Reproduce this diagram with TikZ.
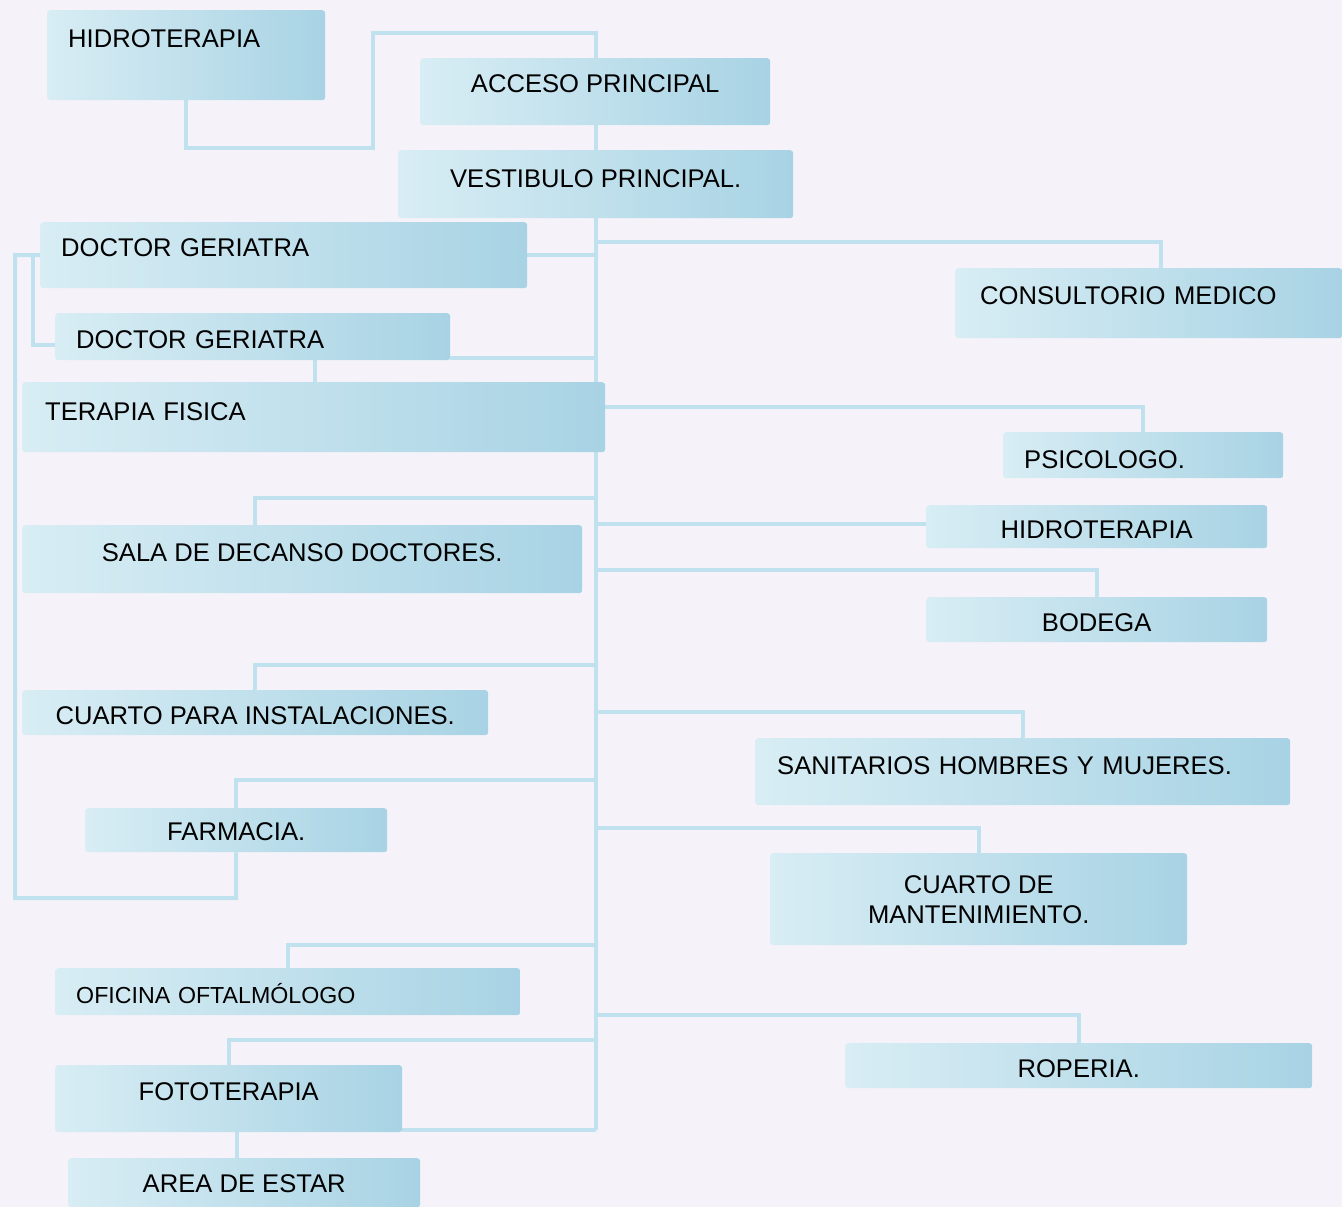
\documentclass[tikz,border=0pt]{standalone}
\usepackage{fontspec}
\setmainfont{Liberation Sans}
\definecolor{bgc}{RGB}{245,243,249}
\definecolor{boxL}{RGB}{216,237,244}
\definecolor{boxR}{RGB}{168,211,228}
\definecolor{linec}{RGB}{192,225,238}
\newcommand\mainsz{\fontsize{25.6}{30}\selectfont}
\newcommand\smallsz{\fontsize{23.2}{28}\selectfont}
\newcommand\rz[2]{\raisebox{#1pt}[\height][\depth]{#2}}
\pgfdeclarelayer{bglayer}
\pgfdeclarelayer{lines}
\pgfsetlayers{bglayer,lines,main}
\tikzset{
  boxc/.style={draw=none, left color=boxL, right color=boxR, rounded corners=3pt,
    anchor=north west, inner xsep=21pt, inner ysep=0pt, font=\mainsz, align=center,
    text=black},
  boxl/.style={boxc, align=left},
  conn/.style={draw=linec, line width=4pt},
}
\begin{document}
\begin{tikzpicture}[x=1pt,y=-1pt]
\useasboundingbox (0,0) rectangle (1342,1207);
\begin{pgfonlayer}{bglayer}
\fill[bgc] (0,0) rectangle (1342,1207);
\end{pgfonlayer}

% left / top boxes
\node[boxl, minimum width=278, minimum height=90, text width=236] (hidroA) at (47,10) {\rz{17}{HIDROTERAPIA}};
\node[boxc, minimum width=350, minimum height=67] (acceso) at (420,58) {\rz{8}{ACCESO PRINCIPAL}};
\node[boxc, minimum width=395, minimum height=68] (vest) at (398,150) {\rz{6}{VESTIBULO PRINCIPAL.}};
\node[boxl, minimum width=487, minimum height=66, text width=445] (doc1) at (40,222) {\rz{8}{DOCTOR GERIATRA}};
\node[boxl, minimum width=395, minimum height=47, text width=353] (doc2) at (55,313) {\rz{-3}{DOCTOR GERIATRA}};
\node[boxl, minimum width=583, minimum height=70, text width=537, inner xsep=23pt] (terapia) at (22,382) {\rz{6}{TERAPIA FISICA}};
\node[boxc, minimum width=560, minimum height=68] (sala) at (22,525) {\rz{7}{SALA DE DECANSO DOCTORES.}};
\node[boxc, minimum width=466, minimum height=45, inner xsep=10pt] (cinst) at (22,690) {\rz{-3}{CUARTO PARA INSTALACIONES.}};
\node[boxc, minimum width=302, minimum height=44] (farm) at (85,808) {\rz{-1}{FARMACIA.}};
\node[boxl, minimum width=465, minimum height=47, text width=423, font=\smallsz] (ofic) at (55,968) {\rz{-2}{OFICINA OFTALMÓLOGO}};
\node[boxc, minimum width=347, minimum height=67] (foto) at (55,1065) {\rz{7}{FOTOTERAPIA}};
\node[boxc, minimum width=352, minimum height=49] (area) at (68,1158) {\rz{-1}{AREA DE ESTAR}};

% right boxes
\node[boxl, minimum width=387, minimum height=70, text width=337, inner xsep=25pt] (cons) at (955,268) {\rz{8}{CONSULTORIO MEDICO}};
\node[boxl, minimum width=280, minimum height=46, text width=238] (psic) at (1003,432) {\rz{-4}{PSICOLOGO.}};
\node[boxc, minimum width=341, minimum height=43] (hidroB) at (926,505) {\rz{-3}{HIDROTERAPIA}};
\node[boxc, minimum width=341, minimum height=45] (bodega) at (926,597) {\rz{-3}{BODEGA}};
\node[boxl, minimum width=535, minimum height=67, text width=491, inner xsep=22pt] (sanit) at (755,738) {\rz{6}{SANITARIOS HOMBRES Y MUJERES.}};
\node[boxc, minimum width=417, minimum height=92] (cmant) at (770,853) {CUARTO DE\\MANTENIMIENTO.};
\node[boxc, minimum width=467, minimum height=45] (ropa) at (845,1043) {\rz{-3}{ROPERIA.}};

% helper coordinates
\coordinate (sp) at (596,0);
\coordinate (spbot) at (596,1130);
\coordinate (j1) at (373,148);
\coordinate (j2) at (596,33);
\coordinate (lstop) at (15,255);
\coordinate (lsbot) at (15,898);
\coordinate (c33) at (33,0);
\coordinate (c315) at (315,0);
\coordinate (c255) at (255,0);
\coordinate (c288) at (288,0);
\coordinate (c237) at (237,0);
\coordinate (bsala) at (596,498);
\coordinate (bcinst) at (596,665);
\coordinate (bfarm) at (596,780);
\coordinate (bofic) at (596,945);
\coordinate (bfoto) at (596,1040);
\coordinate (bcons) at (596,242);
\coordinate (bpsic) at (605,407);
\coordinate (bbod) at (596,570);
\coordinate (bsan) at (596,712);
\coordinate (bcm) at (596,828);
\coordinate (bropa) at (596,1015);

\begin{pgfonlayer}{lines}
\draw[conn] (hidroA.south) |- (j1) |- (j2) -- (acceso.north -| j2);
\draw[conn] (acceso.south -| sp) -- (vest.south -| sp);
\draw[conn] (vest.south -| sp) -- (spbot);
\draw[conn] (spbot) -- (spbot -| foto.east);
\draw[conn] (foto.south -| c237) -- (area.north -| c237);
% left spine
\draw[conn] (doc1.west) -- (lstop) -- (lsbot) -| (farm.south);
\draw[conn] (doc1.west -| c33) |- ([yshift=-8pt]doc2.west);
\draw[conn] (doc1.east) -- (doc1.east -| sp);
\draw[conn] ([yshift=2pt]doc2.south east) -- ([yshift=2pt]doc2.south east -| sp);
\draw[conn] (doc2.south -| c315) -- (terapia.north -| c315);
\draw[conn] (sala.north -| c255) |- (bsala);
\draw[conn] (cinst.north -| c255) |- (bcinst);
\draw[conn] (farm.north) |- (bfarm);
\draw[conn] (ofic.north -| c288) |- (bofic);
\draw[conn] (foto.north) |- (bfoto);
% right branches
\draw[conn] (bcons) -| ([xshift=12pt]cons.north);
\draw[conn] (bpsic) -| (psic.north);
\draw[conn] ([yshift=3pt]hidroB.west -| sp) -- ([yshift=3pt]hidroB.west);
\draw[conn] (bbod) -| (bodega.north);
\draw[conn] (bsan) -| (sanit.north);
\draw[conn] (bcm) -| (cmant.north);
\draw[conn] (bropa) -| (ropa.north);
\end{pgfonlayer}
\end{tikzpicture}
\end{document}
